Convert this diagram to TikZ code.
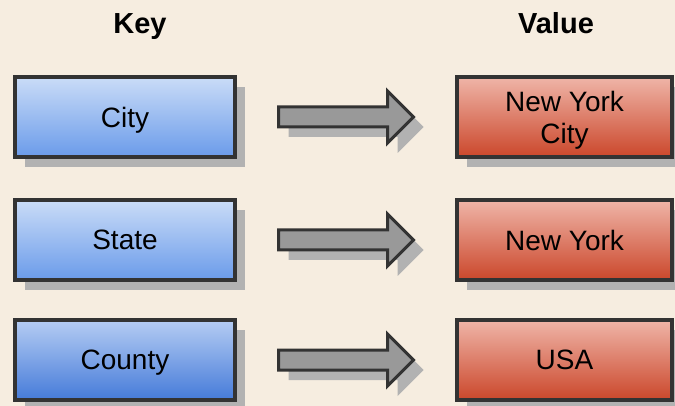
\documentclass[tikz,border=0pt]{standalone}
\usepackage{fontspec}
\setmainfont{Liberation Sans}
\usetikzlibrary{positioning, shadows, shapes.arrows}
\definecolor{paper}{HTML}{F6EDE0}
\definecolor{keytop}{HTML}{CADCF7}
\definecolor{keybot}{HTML}{6A9BEA}
\definecolor{darktop}{HTML}{B5CCF3}
\definecolor{darkbot}{HTML}{457BD9}
\definecolor{valtop}{HTML}{EFB5A8}
\definecolor{valbot}{HTML}{CB472B}
\tikzset{x=1pt, y=-1pt, % one unit is one pixel of the picture
box/.style={rectangle, draw=black!80, line width=4pt, minimum width=220pt, minimum height=80pt,
  align=center, text depth=0pt, font=\fontsize{28}{32}\selectfont,
  drop shadow={shadow xshift=10pt, shadow yshift=-10pt, fill=black!30, opacity=1}},
keybox/.style={box, top color=keytop, bottom color=keybot}, % blue boxes on the left
valbox/.style={box, minimum width=215pt, top color=valtop, bottom color=valbot}, % red boxes on the right
maparrow/.style={single arrow, draw=black!80, line width=3pt, fill=black!40,
  inner xsep=0pt, inner ysep=8.5pt, single arrow head extend=16pt, minimum height=135pt,
  drop shadow={shadow xshift=10pt, shadow yshift=-10pt, fill=black!30, opacity=1}},
head/.style={anchor=base, font=\bfseries\fontsize{29}{32}\selectfont},
}
\begin{document}
\begin{tikzpicture}
  \useasboundingbox (0,0) rectangle (675,406);
  \fill[paper] (0,0) rectangle (675,406);

  \node[head] (hkey) at (140,34) {Key};
  \node[head] (hval) at (556,34) {Value};

  \node[keybox] (k1) at (125,117) {City};
  \node[keybox, below=39pt of k1] (k2) {State};
  \node[keybox, below=36pt of k2, top color=darktop, bottom color=darkbot] (k3) {County};

  \node[valbox, right=218pt of k1] (v1) {New York\\City};
  \node[valbox, right=218pt of k2] (v2) {New York};
  \node[valbox, right=218pt of k3] (v3) {USA};

  \foreach \i in {1,2,3}
    \node[maparrow, right=40pt of k\i] (a\i) {};
\end{tikzpicture}
\end{document}
